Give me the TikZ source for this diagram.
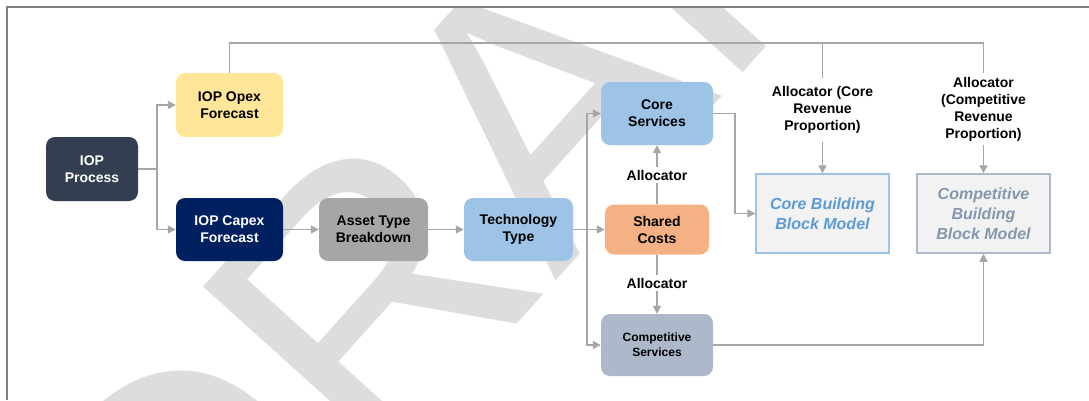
\documentclass[tikz,border=0pt]{standalone}
\usepackage{fontspec}
\setmainfont{Liberation Sans}
\usetikzlibrary{arrows.meta}

\definecolor{procC}{HTML}{333F50}
\definecolor{opexC}{HTML}{FFE699}
\definecolor{capexC}{HTML}{002060}
\definecolor{assetC}{HTML}{A6A6A6}
\definecolor{blueC}{HTML}{9DC3E6}
\definecolor{sharedC}{HTML}{F4B183}
\definecolor{compC}{HTML}{ADB9CA}
\definecolor{bbFill}{HTML}{F2F2F2}
\definecolor{coreTxt}{HTML}{5B9BD5}
\definecolor{compTxt}{HTML}{8497B0}
\definecolor{lineC}{HTML}{A6A6A6}
\definecolor{frameC}{HTML}{808080}
\definecolor{wmC}{HTML}{DDDDDD}

\tikzset{
  box/.style={rounded corners=9pt, align=center, inner sep=0pt,
    font=\bfseries\fontsize{14}{17}\selectfont},
  bbox/.style={draw, line width=1.5pt, fill=bbFill, align=center, inner sep=0pt,
    minimum width=133pt, minimum height=79pt,
    font=\bfseries\itshape\fontsize{16}{20}\selectfont},
  conn/.style={draw=lineC, line width=1.5pt},
  arr/.style={conn, -{Triangle[length=8pt,width=8pt]}},
  lbl/.style={fill=white, align=center, inner sep=3pt,
    font=\bfseries\fontsize{14}{17}\selectfont},
}

\begin{document}
\begin{tikzpicture}[x=1pt, y=-1pt]
\useasboundingbox (0,0) rectangle (1089,400);

% watermark
\begin{scope}
  \clip (6,6) rectangle (1089,400);
  \node[rotate=48, anchor=base west, inner sep=0pt, text=wmC,
        font=\fontsize{375}{375}\selectfont] (wm) at (193,684) {DRAFT};
\end{scope}

% frame
\draw[frameC, line width=2pt] (6.5,400) -- (6.5,6.5) -- (1089,6.5);

% boxes
\node[box, fill=procC, text=white, minimum width=92pt, minimum height=64pt] (proc) at (92,169) {IOP\\Process};
\node[box, fill=opexC, minimum width=107pt, minimum height=64pt] (opex) at (229.5,105) {IOP Opex\\Forecast};
\node[box, fill=capexC, text=white, minimum width=107pt, minimum height=63pt] (capex) at (229.5,229.5) {IOP Capex\\Forecast};
\node[box, fill=assetC, minimum width=109pt, minimum height=63pt] (asset) at (373.5,229.5) {Asset Type\\Breakdown};
\node[box, fill=blueC, minimum width=109pt, minimum height=63pt] (tech) at (518.5,229.5) {Technology\\Type};
\node[box, fill=blueC, minimum width=112pt, minimum height=63pt] (core) at (657,113.5) {Core\\Services};
\node[box, fill=sharedC, minimum width=104pt, minimum height=50pt] (shared) at (657,229.5) {Shared\\Costs};
\node[box, fill=compC, minimum width=112pt, minimum height=62pt,
      font=\bfseries\fontsize{12}{15}\selectfont] (comp) at (657,345) {Competitive\\Services};
\node[bbox, draw=blueC, text=coreTxt] (corebb) at (822.5,213.5) {Core Building\\Block Model};
\node[bbox, draw=compC, text=compTxt] (compbb) at (983.5,213.5) {Competitive\\Building\\Block Model};

% connectors
\path (proc.east) ++(19,0) coordinate (j1);
\draw[conn] (proc.east) -- (j1);
\draw[arr] (j1) |- (opex.west);
\draw[arr] (j1) |- (capex.west);

\path (opex.north) ++(0,-30) coordinate (tL);
\draw[arr] (opex.north) -- (tL) -| (compbb.north);
\draw[arr] (tL -| corebb.north) -- (corebb.north);

\draw[arr] (capex.east) -- (asset.west);
\draw[arr] (asset.east) -- (tech.west);

\path (tech.east) ++(14,0) coordinate (j2);
\draw[arr] (tech.east) -- (shared.west);
\draw[arr] (j2) |- (core.west);
\draw[arr] (j2) |- (comp.west);

\draw[arr] (core.east) -- ++(22,0) |- (corebb.west);
\draw[arr] (shared.north) -- (core.south);
\draw[arr] (shared.south) -- (comp.north);
\draw[arr] (comp.east) -| (compbb.south);

% labels
\node[lbl, minimum width=96pt] (la1) at (657,175) {Allocator};
\node[lbl, minimum width=96pt] (la2) at (657,283) {Allocator};
\node[lbl, minimum width=128pt, minimum height=64pt] (lcore) at (822.5,110) {Allocator (Core\\Revenue\\Proportion)};
\node[lbl, minimum width=120pt, minimum height=72pt] (lcomp) at (983.5,109) {Allocator\\(Competitive\\Revenue\\Proportion)};
\end{tikzpicture}
\end{document}
